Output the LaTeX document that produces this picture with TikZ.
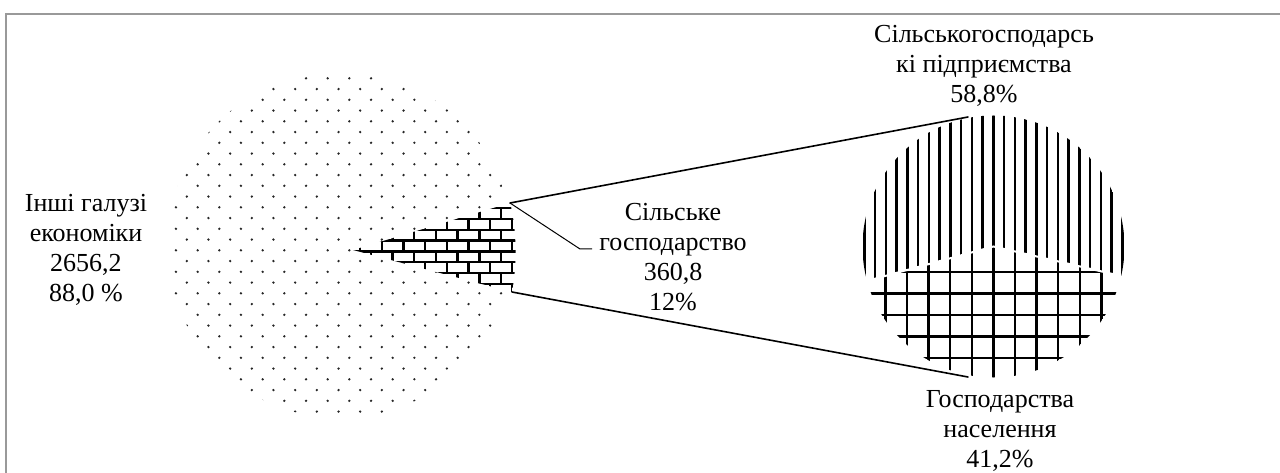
\documentclass[tikz,border=0pt]{standalone}
\usepackage{fontspec}
\setmainfont{Liberation Serif}
\usetikzlibrary{positioning}

\tikzset{
	lbl/.style={font=\fontsize{26}{30}\selectfont, align=center, inner sep=0pt},
	link/.style={line width=1.6pt, line cap=round},
	lead/.style={line width=1pt},
	brick/.style={line width=2.4pt},
	stripe/.style={line width=2.4pt},
	frm/.style={line width=2pt, color=black!40},
}

\begin{document}
\begin{tikzpicture}[x=1pt,y=-1pt]
	\useasboundingbox (0,0) rectangle (1280,473);
	\draw[frm] (6,480) -- (6,14) -- (1290,14);
	\coordinate (lc) at (340,245);
	\coordinate (apex) at (353,250);
	\coordinate (wtop) at (510,203);
	\coordinate (wbot) at (512,292);
	\coordinate (rc) at (993.5,246.5);
	\coordinate (rtop) at (968,117);
	\coordinate (rbot) at (968,377);
	% big pie, dots
	\begin{scope}
		\clip (lc) circle (173pt);
		\foreach \j in {0,...,31}
			\foreach \i in {-7,...,9}
				\fill[black!85] ({306+10.83*mod(\j,2)+21.67*\i},{78.3+10.75*\j}) circle (1.3pt);
	\end{scope}
	\fill[white] (apex) -- (wtop) .. controls (517,230) and (517,265) .. (wbot) -- cycle;
	\begin{scope}
		\clip (apex) -- (wtop) .. controls (517,230) and (517,265) .. (wbot) -- cycle;
		\foreach \k in {-1,...,8} {
			\draw[brick] (340,{208.3+10.8*\k}) -- (530,{208.3+10.8*\k});
			\foreach \i in {-1,...,8}
				\draw[brick] ({360+10.8*mod(\k+1,2)+21.7*\i},{208.3+10.8*\k}) -- ++(0,10.8);
		}
	\end{scope}
	% small pie
	\begin{scope}
		\clip (rc) circle (131pt);
		\begin{scope}
			\clip (rc) -- (793.5,300.5) -- (793.5,100) -- (1200,100) -- (1200,294) -- cycle;
			\foreach \i in {-13,...,13}
				\draw[stripe] ({993.3+10.75*\i},100) -- ({993.3+10.75*\i},400);
		\end{scope}
		\begin{scope}
			\clip (rc) -- (793.5,300.5) -- (793.5,400) -- (1200,400) -- (1200,294) -- cycle;
			\foreach \i in {-6,...,6}
				\draw[brick] ({993.3+21.6*\i},230) -- ({993.3+21.6*\i},400);
			\foreach \k in {0,...,5}
				\draw[brick] (850,{272+21.5*\k}) -- (1140,{272+21.5*\k});
		\end{scope}
		\draw[white, line width=2pt] (863,282) -- (rc) -- (1117,275);
	\end{scope}
	\draw[link] (wtop) -- (rtop);
	\draw[link] (wbot) -- (rbot);
	% labels
	\node[lbl] (other) at (86,250) {Інші галузі\\економіки\\2656,2\\88,0 \%};
	\node[lbl] (agri) at (673,257) {Сільське\\господарство\\360,8\\12\%};
	\node[lbl] (firms) at (984,65.5) {Сільськогосподарсь\\кі підприємства\\58,8\%};
	\node[lbl] (house) at (1000,431) {Господарства\\населення\\41,2\%};
	\coordinate (bend) at (580,249);
	\coordinate (tip) at (592,249);
	\draw[lead] (wtop) -- (bend) -- (tip);
\end{tikzpicture}
\end{document}
